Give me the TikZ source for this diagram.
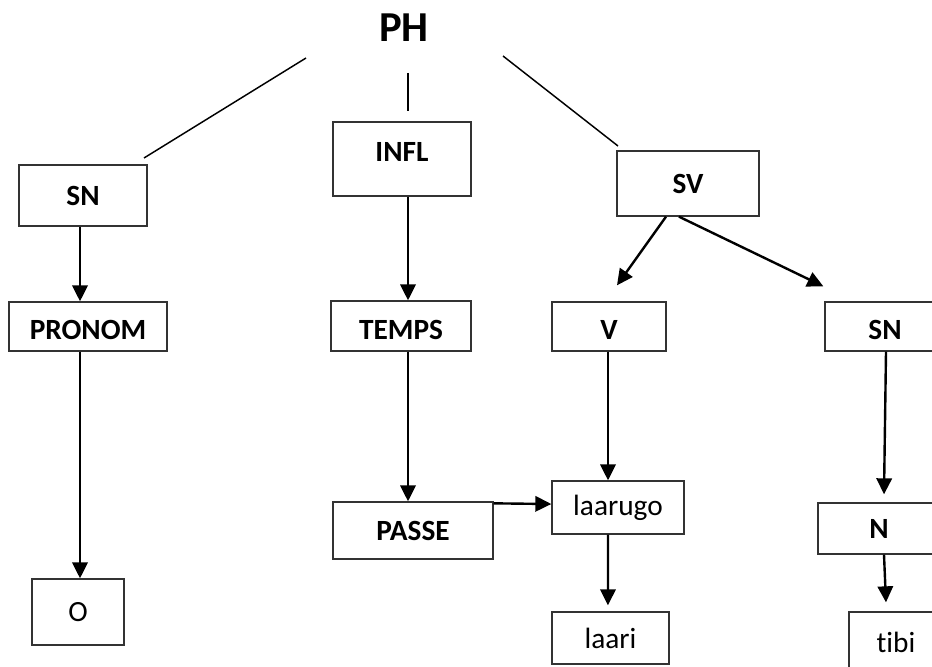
\documentclass[tikz,border=0pt]{standalone}
\usepackage{fontspec}
\setmainfont{Carlito}[Ligatures=NoCommon]
\usetikzlibrary{arrows.meta,positioning,calc}

\tikzset{
  cat/.style={draw=black!80, line width=1pt, inner sep=0pt, font=\fontsize{22}{26}\selectfont\bfseries},
  word/.style={draw=black!80, line width=1pt, inner sep=0pt, font=\fontsize{22}{26}\selectfont},
  low/.style={text height=20pt, text depth=0pt},
  arr/.style={-{Triangle[length=12pt,width=11.5pt]}, line width=1.8pt},
  branch/.style={line width=1.1pt}
}

\begin{document}
\begin{tikzpicture}[x=0.75pt, y=-0.75pt]
    \clip (0,0) rectangle (932,667);

    \node[font=\fontsize{32}{36}\selectfont\bfseries] (ph) at (404,28) {PH};

    % first level
    \node[cat, minimum width=96pt, minimum height=45.75pt] (sn1) at (83,195.5) {SN};
    \node[cat, minimum width=103.5pt, minimum height=55.5pt, text depth=10pt] (infl) at (402,159) {INFL};
    \node[cat, minimum width=106.5pt, minimum height=48.75pt] (sv) at (688,183.5) {SV};

    % branches from PH
    \coordinate (phl) at (306,58);   \coordinate (snl) at (144,158);
    \coordinate (phm) at (408,73);   \coordinate (inm) at (408,111);
    \coordinate (phr) at (503,56);   \coordinate (svr) at (618,146);
    \draw[branch] (phl) -- (snl);
    \draw[branch] (phm) -- (inm);
    \draw[branch] (phr) -- (svr);

    % second level
    \node[cat, low, minimum width=118.5pt, minimum height=36.75pt] (pronom) at (88,326.5) {PRONOM};
    \node[cat, low, minimum width=105pt, minimum height=37.5pt] (temps) at (401,326) {TEMPS};
    \node[cat, low, minimum width=85.5pt, minimum height=36.75pt] (v) at (609,326.5) {V};
    \node[cat, low, minimum width=90pt, minimum height=36.75pt] (sn2) at (885,326.5) {SN};

    % lower levels
    \node[word, minimum width=69pt, minimum height=49.5pt] (o) at (78,612) {O};
    \node[cat, minimum width=120pt, minimum height=42.75pt] (passe) at (413,530.5) {PASSE};
    \node[word, minimum width=99pt, minimum height=39.75pt] (laarugo) at (618,507.5) {laarugo};
    \node[word, minimum width=87.75pt, minimum height=39pt] (laari) at (610.5,638) {laari};
    \node[cat, minimum width=91.5pt, minimum height=38.25pt] (n) at (879,528.5) {N};
    \node[word, minimum width=70.5pt, minimum height=45pt] (tibi) at (896,642) {tibi};

    \draw[arr] ([xshift=-2.25pt]sn1.south) -- ([xshift=-6pt]pronom.north);
    \draw[arr] ([xshift=-6pt]pronom.south) -- ([xshift=1.5pt]o.north);
    \draw[arr] ([xshift=4.5pt]infl.south) -- ([xshift=5.25pt]temps.north);
    \draw[arr] ([xshift=5.25pt]temps.south) -- ([xshift=-3.75pt]passe.north);
    \draw[arr] ([yshift=-1.5pt]passe.north east) -- ([yshift=2.6pt]laarugo.west);
    \draw[arr] ([xshift=-16.5pt]sv.south) -- ([shift={(6pt,12pt)}]v.north);
    \draw[arr] ([xshift=-6.75pt]sv.south) -- ([shift={(-0.75pt,11.25pt)}]sn2.north west);
    \draw[arr] ([xshift=-0.75pt]v.south) -- ([xshift=-7.5pt]laarugo.north);
    \draw[arr] ([xshift=-7.5pt]laarugo.south) -- ([shift={(-1.9pt,4.5pt)}]laari.north);
    \draw[arr] ([xshift=0.75pt]sn2.south) -- ([shift={(3.75pt,6pt)}]n.north);
    \draw[arr] ([xshift=3.75pt]n.south) -- ([shift={(-7.5pt,6.75pt)}]tibi.north);
\end{tikzpicture}
\end{document}
